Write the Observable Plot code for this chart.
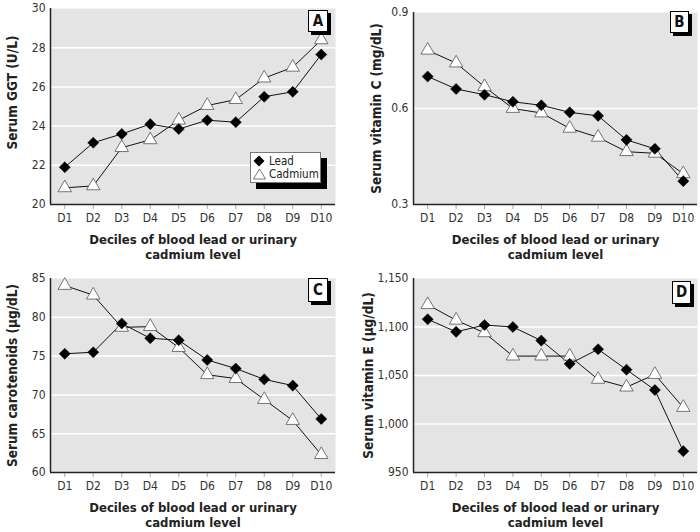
<!DOCTYPE html>
<html><head><meta charset="utf-8">
<script src="https://cdn.jsdelivr.net/npm/d3@7"></script>
<script src="https://cdn.jsdelivr.net/npm/@observablehq/plot@0.6"></script>
<style>
body{margin:0;background:#fff;}
#wrap{position:relative;width:700px;height:532px;overflow:hidden;font-family:"DejaVu Sans Condensed","Liberation Sans Narrow",sans-serif;font-stretch:condensed;}
.panel{position:absolute;width:350px;height:266px;}
.panel svg{overflow:visible;font-stretch:condensed;}
.tag{position:absolute;background:#fff;border:1px solid #000;box-shadow:3px 3px 0 #000;font-weight:bold;font-size:15px;color:#111;text-align:center;box-sizing:border-box;}
.legend{position:absolute;background:#fff;border:1px solid #777;box-shadow:6px 6px 0 #000;box-sizing:border-box;font-size:11.5px;color:#222;}
.legend svg{position:absolute;}
.legend span{position:absolute;white-space:nowrap;line-height:14px;}
</style>
</head><body>
<div id="wrap"></div>
<script>
const deciles = ["D1","D2","D3","D4","D5","D6","D7","D8","D9","D10"];
const seriesNames = ["Lead","Cadmium"];
const xTitle = "Deciles of blood lead or urinary\ncadmium level";

// Panel A: Serum GGT (U/L)
const ggtLead    = [21.9, 23.15, 23.6, 24.1, 23.85, 24.3, 24.2, 25.5, 25.75, 27.65];
const ggtCadmium = [20.85, 20.95, 22.9, 23.3, 24.3, 25.05, 25.35, 26.45, 27.0, 28.4];
const ggtTicks   = [20, 22, 24, 26, 28, 30];

// Panel B: Serum vitamin C (mg/dL)
const vitCLead    = [0.70, 0.661, 0.643, 0.621, 0.61, 0.588, 0.577, 0.502, 0.474, 0.373];
const vitCCadmium = [0.782, 0.742, 0.668, 0.600, 0.586, 0.538, 0.51, 0.465, 0.46, 0.396];
const vitCTicks   = [0.3, 0.6, 0.9];

// Panel C: Serum carotenoids (μg/dL)
const carotLead    = [75.3, 75.5, 79.2, 77.3, 77.05, 74.5, 73.4, 72.0, 71.2, 66.9];
const carotCadmium = [84.1, 82.85, 78.7, 78.8, 76.1, 72.6, 72.1, 69.4, 66.7, 62.3];
const carotTicks   = [60, 65, 70, 75, 80, 85];

// Panel D: Serum vitamin E (μg/dL)
const vitELead    = [1108, 1095, 1102, 1100, 1086, 1062, 1077, 1056, 1035, 972];
const vitECadmium = [1123, 1107, 1094, 1070, 1070, 1070, 1046, 1038, 1051, 1017];
const vitETicks   = [950, 1000, 1050, 1100, 1150];

const FONT = '"DejaVu Sans Condensed","Liberation Sans Narrow",sans-serif';

function makePanel(cfg) {
  const rows = [];
  deciles.forEach((d, i) => {
    rows.push({decile: d, idx: i + 1, value: cfg.lead[i], series: seriesNames[0]});
    rows.push({decile: d, idx: i + 1, value: cfg.cadmium[i], series: seriesNames[1]});
  });
  const yMin = cfg.ticks[0], yMax = cfg.ticks[cfg.ticks.length - 1];
  return Plot.plot({
    width: 350, height: 266,
    marginLeft: cfg.m[0], marginRight: cfg.m[1], marginTop: cfg.m[2], marginBottom: cfg.m[3],
    style: {fontFamily: FONT, fontSize: "12px", color: "#333", background: "transparent", overflow: "visible"},
    x: {type: "linear", domain: [0.5, 10.5]},
    y: {domain: [yMin, yMax]},
    marks: [
      Plot.frame({fill: "#e4e4e4", stroke: null}),
      Plot.ruleY(cfg.ticks.slice(1, -1), {stroke: "#fff", strokeWidth: 1.5}),
      Plot.axisY({ticks: cfg.ticks, tickSize: 0, tickPadding: 5, tickFormat: cfg.fmt, label: null, fill: "#333"}),
      Plot.axisX({ticks: deciles.map((d, i) => i + 1), tickFormat: (v) => deciles[v - 1], tickSize: 5, stroke: "#aaa", fill: "#333", tickPadding: 4, label: null}),
      Plot.ruleY([yMin], {stroke: "#222", strokeWidth: 1.5}),
      Plot.ruleX([0.5], {stroke: "#222", strokeWidth: 1.5}),
      Plot.line(rows, {x: "idx", y: "value", z: "series", stroke: "#111", strokeWidth: 1}),
      Plot.dot(rows.filter(r => r.series === "Cadmium"), {x: "idx", y: "value", symbol: "triangle", r: 5, fill: "#fff", stroke: "#555", strokeWidth: 0.8}),
      Plot.dot(rows.filter(r => r.series === "Lead"), {x: "idx", y: "value", symbol: "diamond2", r: 5, fill: "#000", stroke: "#000", strokeWidth: 0.5}),
      Plot.text([cfg.yTitle], {frameAnchor: "left", rotate: -90, textAnchor: "middle", lineAnchor: "middle", dx: cfg.ydx, dy: cfg.ydy, fontWeight: "bold", fontSize: 13.5, fill: "#222"}),
      Plot.text([xTitle], {frameAnchor: "bottom", textAnchor: "middle", lineAnchor: "top", dy: 29, lineHeight: 1.15, fontWeight: "bold", fontSize: 13, fill: "#222"})
    ]
  });
}

const panels = [
  {pos: [0, 0], lead: ggtLead, cadmium: ggtCadmium, ticks: ggtTicks, fmt: d3.format("d"), yTitle: "Serum GGT (U/L)", ydx: -38, ydy: -14, m: [50, 15, 8, 62], tag: "A", tagBox: [308, 10, 20, 22]},
  {pos: [350, 0], lead: vitCLead, cadmium: vitCCadmium, ticks: vitCTicks, fmt: d3.format(".1f"), yTitle: "Serum vitamin C (mg/dL)", ydx: -37, ydy: 0, m: [63, 3, 12, 62], tag: "B", tagBox: [320, 11, 19, 22]},
  {pos: [0, 266], lead: carotLead, cadmium: carotCadmium, ticks: carotTicks, fmt: d3.format("d"), yTitle: "Serum carotenoids (μg/dL)", ydx: -38, ydy: 0, m: [50, 15, 12, 60], tag: "C", tagBox: [308, 12, 20, 24]},
  {pos: [350, 266], lead: vitELead, cadmium: vitECadmium, ticks: vitETicks, fmt: d3.format(","), yTitle: "Serum vitamin E (μg/dL)", ydx: -45, ydy: 0, m: [63, 3, 12, 60], tag: "D", tagBox: [322, 15, 19, 23]}
];

const wrap = document.getElementById("wrap");
panels.forEach((p) => {
  const div = document.createElement("div");
  div.className = "panel";
  div.style.left = p.pos[0] + "px";
  div.style.top = p.pos[1] + "px";
  div.appendChild(makePanel(p));
  const tag = document.createElement("div");
  tag.className = "tag";
  tag.textContent = p.tag;
  tag.style.left = p.tagBox[0] + "px";
  tag.style.top = p.tagBox[1] + "px";
  tag.style.width = p.tagBox[2] + "px";
  tag.style.height = p.tagBox[3] + "px";
  tag.style.lineHeight = (p.tagBox[3] - 2) + "px";
  div.appendChild(tag);
  if (p.tag === "A") {
    const lg = document.createElement("div");
    lg.className = "legend";
    lg.style.left = "250px"; lg.style.top = "152px"; lg.style.width = "71px"; lg.style.height = "31px";
    lg.innerHTML =
      '<svg width="12" height="12" style="left:2px;top:2px"><path d="M6,0.5L11.5,6L6,11.5L0.5,6Z" fill="#000"/></svg>' +
      '<span style="left:18px;top:1px">' + seriesNames[0] + '</span>' +
      '<svg width="13" height="12" style="left:2px;top:15px"><path d="M6.5,1L12.5,11L0.5,11Z" fill="#fff" stroke="#555" stroke-width="0.8"/></svg>' +
      '<span style="left:18px;top:14px">' + seriesNames[1] + '</span>';
    div.appendChild(lg);
  }
  wrap.appendChild(div);
});
</script>
</body></html>
